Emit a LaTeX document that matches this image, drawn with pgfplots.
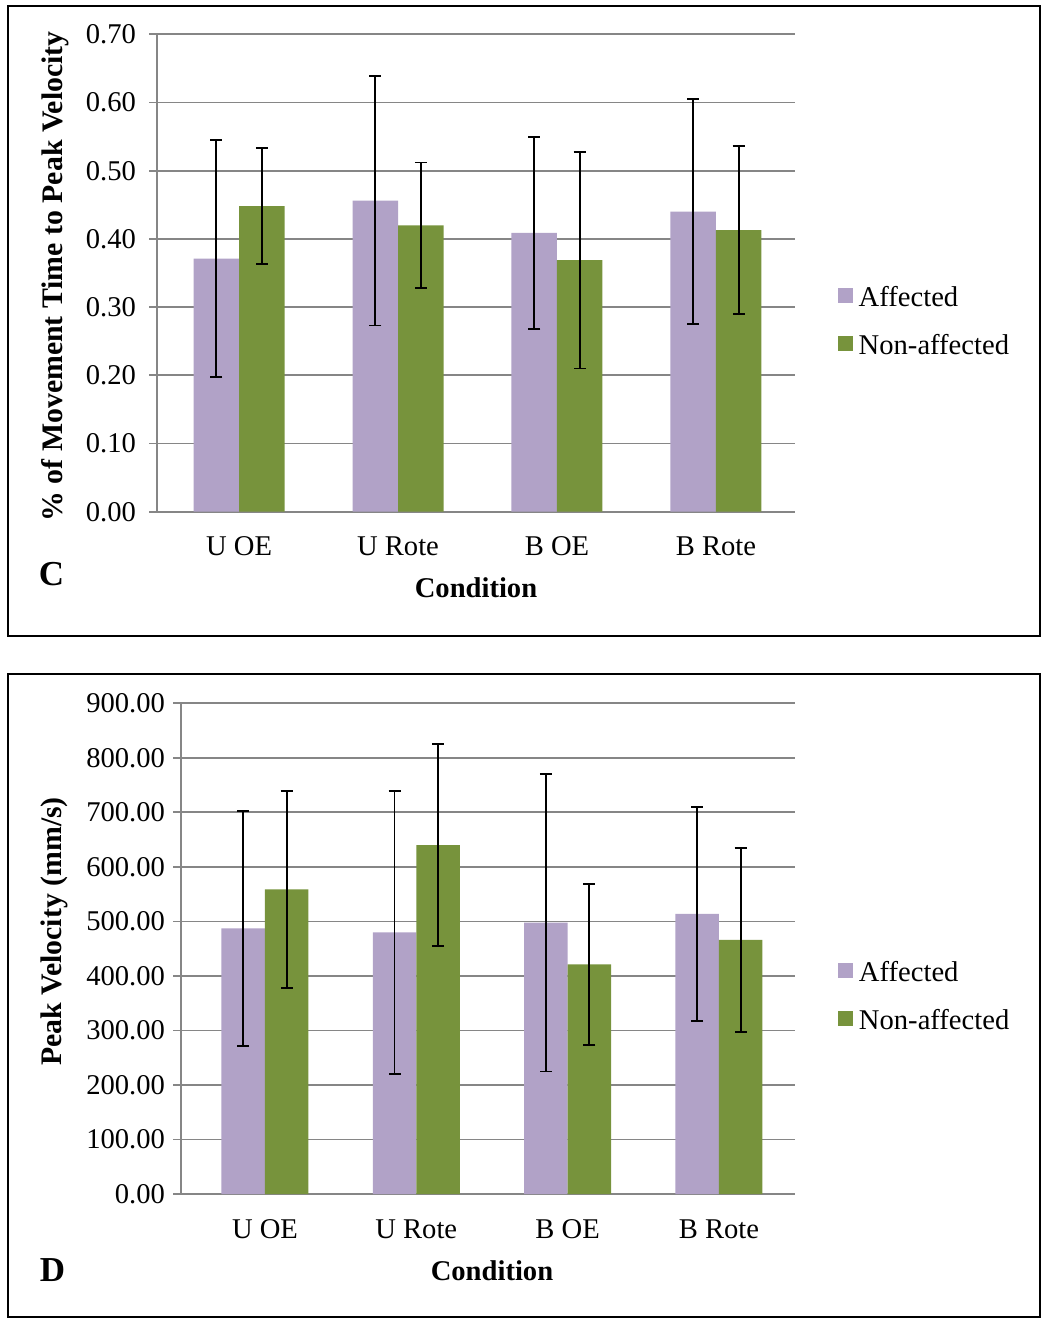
\documentclass[border=0pt]{standalone}
\usepackage{fontspec}
\setmainfont{Liberation Serif}
\usepackage{pgfplots}
\pgfplotsset{compat=1.18}
\usepackage{pgfplotstable}
\definecolor{aff}{RGB}{177,162,199}
\definecolor{non}{RGB}{119,147,60}
\definecolor{gridc}{RGB}{134,134,134}
\newcommand\fs{\fontsize{14.3}{17}\selectfont}
\newcommand\fsl{\fontsize{14.9}{17}\selectfont}

\pgfplotstableread{
x y e
0 0.371 0.174
1 0.456 0.183
2 0.409 0.141
3 0.440 0.165
}\cAff
\pgfplotstableread{
x y e
0 0.448 0.085
1 0.420 0.092
2 0.369 0.159
3 0.413 0.123
}\cNon
\pgfplotstableread{
x y e
0 487.3 215.5
1 480.0 259.5
2 497.7 273.0
3 513.6 196.0
}\dAff
\pgfplotstableread{
x y e
0 558.8 181.0
1 640.1 185.0
2 421.3 148.0
3 465.9 168.5
}\dNon

\pgfplotsset{mystyle/.style={
  scale only axis, ybar=0pt,
  axis x line*=bottom, axis y line*=left,
  axis line style={gridc, line width=0.9pt},
  ymajorgrids, grid style={gridc, line width=0.9pt},
  tick align=outside, major tick length=3.8pt,
  tick style={gridc, line width=0.9pt},
  xtick={0,1,2,3}, xticklabels={U OE, U Rote, B OE, B Rote},
  xtick style={draw=none},
  every tick label/.append style={font=\fs},
  /pgf/number format/assume math mode=true,
  yticklabel style={/pgf/number format/fixed, /pgf/number format/fixed zerofill, /pgf/number format/precision=2},
  xlabel style={font=\fs\bfseries},
  ylabel style={font=\fsl\bfseries},
  legend style={draw=none, fill=none, anchor=west, row sep=9.5pt, column sep=1.5pt, inner sep=0pt,
    font=\fs, nodes={inner sep=1.5pt}},
  legend cell align=left,
  legend image code/.code={\fill[##1] (0pt,-2.3pt) rectangle (7.3pt,5pt);},
  error bars/y dir=both, error bars/y explicit,
  error bars/error bar style={draw=black, line width=0.9pt},
  error bars/error mark options={rotate=90, draw=black, mark size=3pt, line width=0.9pt},
}}

\begin{document}
\begin{tikzpicture}
\path[use as bounding box] (0,0) rectangle (521.5pt,659.5pt);
\draw[line width=1pt] (4pt,656.5pt) rectangle (520pt,341.5pt);
\draw[line width=1pt] (4pt,322.5pt) rectangle (520pt,1pt);

\begin{axis}[mystyle,
  at={(78.5pt,403.65pt)}, anchor=south west,
  width=319pt, height=238.7pt,
  xmin=-0.516, xmax=3.497,
  ymin=0, ymax=0.7, ytick distance=0.1,
  bar width=22.75pt,
  yticklabel style={xshift=-3.2pt},
  xticklabel style={anchor=center, yshift=-13.5pt},
  xlabel={Condition}, ylabel={\% of Movement Time to Peak Velocity},
  xlabel style={at={(axis description cs:0.5,-0.159)}, anchor=center},
  ylabel style={at={(axis description cs:-0.160,0.493)}, anchor=center},
  legend style={at={(axis description cs:1.067,0.397)}},
]
\addplot[fill=aff, draw=none] table[x=x, y=y, y error=e]{\cAff};
\addplot[fill=non, draw=none] table[x=x, y=y, y error=e]{\cNon};
\legend{Affected, Non-affected}
\end{axis}

\begin{axis}[mystyle,
  at={(90.5pt,62.5pt)}, anchor=south west,
  width=307pt, height=245.35pt,
  xmin=-0.555, xmax=3.503,
  ymin=0, ymax=900, ytick distance=100,
  bar width=21.75pt,
  yticklabel style={xshift=-0.7pt},
  xticklabel style={anchor=center, yshift=-14pt},
  xlabel={Condition}, ylabel={Peak Velocity (mm/s)},
  xlabel style={at={(axis description cs:0.5065,-0.157)}, anchor=center},
  ylabel style={at={(axis description cs:-0.207,0.535)}, anchor=center},
  legend style={at={(axis description cs:1.07,0.401)}},
]
\addplot[fill=aff, draw=none] table[x=x, y=y, y error=e]{\dAff};
\addplot[fill=non, draw=none] table[x=x, y=y, y error=e]{\dNon};
\legend{Affected, Non-affected}
\end{axis}

\node[font=\fontsize{17.5}{20}\selectfont\bfseries] at (25.8pt,372.3pt) {C};
\node[font=\fontsize{17.5}{20}\selectfont\bfseries] at (26.3pt,24.3pt) {D};
\end{tikzpicture}
\end{document}
